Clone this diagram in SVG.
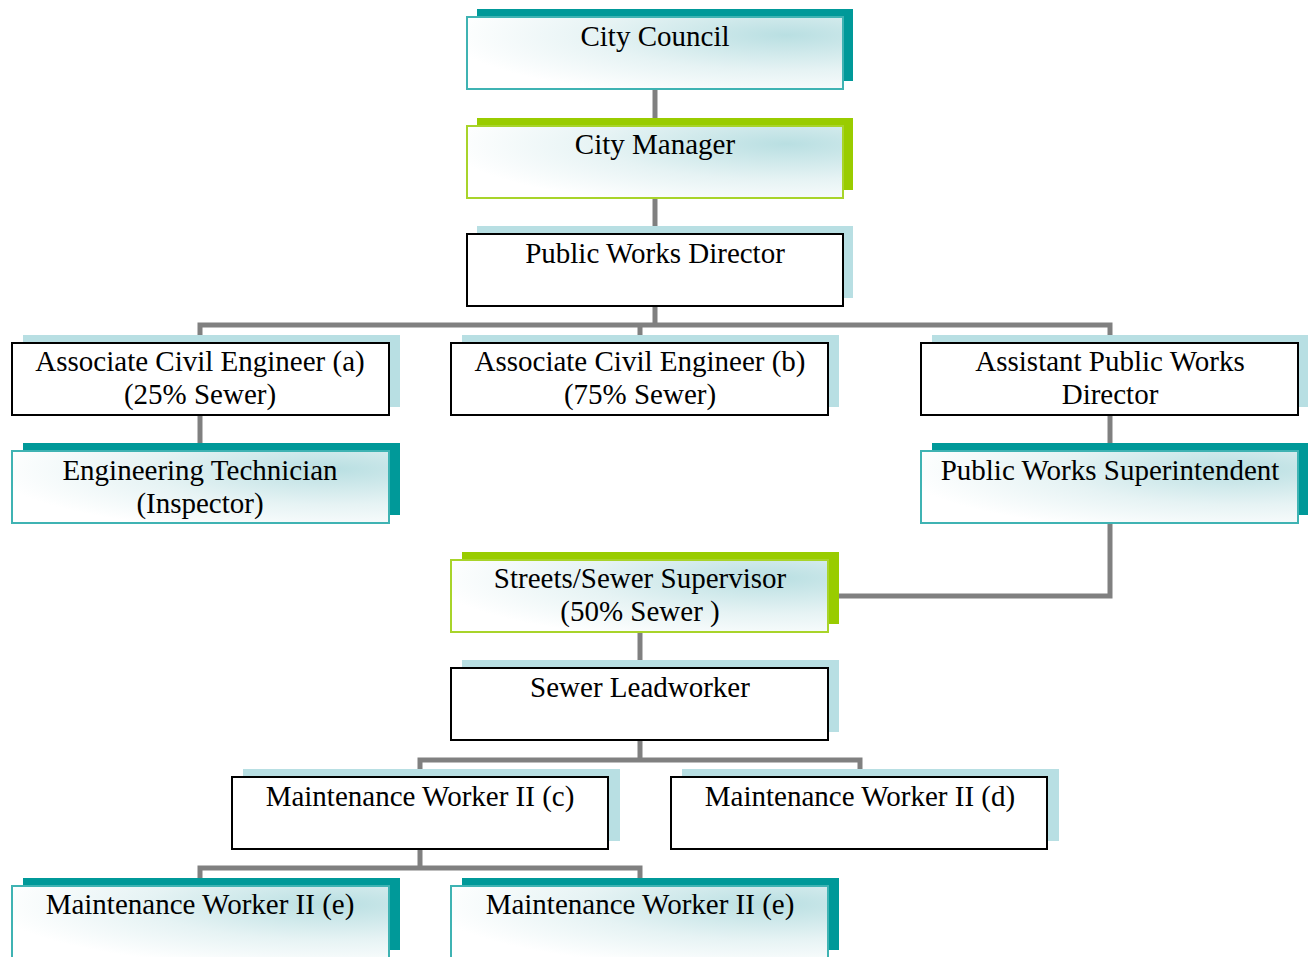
<svg xmlns="http://www.w3.org/2000/svg" width="1308" height="957" viewBox="0 0 1308 957">
<style>
text{font-family:"Liberation Serif","Times New Roman",serif;font-size:29px;fill:#000;text-anchor:middle}
.sh-teal{fill:#009999}
.sh-green{fill:#99CC00}
.sh-blue{fill:#B8DFE3}
.fr-teal{fill:url(#grad);stroke:#3FB3B3;stroke-width:2}
.fr-green{fill:url(#grad);stroke:#A8D42A;stroke-width:2}
.fr-plain{fill:#fff;stroke:#000;stroke-width:2}
.conn{fill:none;stroke:#808080;stroke-width:5}
</style>
<defs>
<radialGradient id="grad" cx="0.85" cy="0.25" r="0.9" fx="0.85" fy="0.25">
<stop offset="0" stop-color="#B9DFE2"/>
<stop offset="0.55" stop-color="#E6F3F4"/>
<stop offset="1" stop-color="#FFFFFF"/>
</radialGradient>
</defs>
<rect width="1308" height="957" fill="#fff"/>
<g id="connectors">
<path class="conn" d="M655 89V126"/>
<path class="conn" d="M655 198V234"/>
<path class="conn" d="M655 307V325M200 343V325H1110V343M640 325V343"/>
<path class="conn" d="M200 415V451"/>
<path class="conn" d="M1110 415V451"/>
<path class="conn" d="M1110 523V596H829"/>
<path class="conn" d="M640 632V668"/>
<path class="conn" d="M640 741V760M420 777V760H860V777"/>
<path class="conn" d="M420 849V868M200 886V868H640V886"/>
</g>
<g id="city-council">
<rect class="sh-teal" x="477" y="9" width="376" height="72"/>
<rect class="fr-teal" x="467" y="17" width="376" height="72"/>
<text x="655" y="46">City Council</text>
</g>
<g id="city-manager">
<rect class="sh-green" x="477" y="118" width="376" height="72"/>
<rect class="fr-green" x="467" y="126" width="376" height="72"/>
<text x="655" y="154">City Manager</text>
</g>
<g id="public-works-director">
<rect class="sh-blue" x="477" y="226" width="376" height="72"/>
<rect class="fr-plain" x="467" y="234" width="376" height="72"/>
<text x="655" y="263">Public Works Director</text>
</g>
<g id="ace-a">
<rect class="sh-blue" x="23" y="335" width="377" height="72"/>
<rect class="fr-plain" x="12" y="343" width="377" height="72"/>
<text x="200" y="371">Associate Civil Engineer (a)</text>
<text x="200" y="404">(25% Sewer)</text>
</g>
<g id="ace-b">
<rect class="sh-blue" x="462" y="335" width="377" height="72"/>
<rect class="fr-plain" x="451" y="343" width="377" height="72"/>
<text x="640" y="371">Associate Civil Engineer (b)</text>
<text x="640" y="404">(75% Sewer)</text>
</g>
<g id="apwd">
<rect class="sh-blue" x="932" y="335" width="377" height="72"/>
<rect class="fr-plain" x="921" y="343" width="377" height="72"/>
<text x="1110" y="371">Assistant Public Works</text>
<text x="1110" y="404">Director</text>
</g>
<g id="eng-tech">
<rect class="sh-teal" x="23" y="443" width="377" height="72"/>
<rect class="fr-teal" x="12" y="451" width="377" height="72"/>
<text x="200" y="480">Engineering Technician</text>
<text x="200" y="513">(Inspector)</text>
</g>
<g id="pws">
<rect class="sh-teal" x="932" y="443" width="377" height="72"/>
<rect class="fr-teal" x="921" y="451" width="377" height="72"/>
<text x="1110" y="480">Public Works Superintendent</text>
</g>
<g id="supervisor">
<rect class="sh-green" x="462" y="552" width="377" height="72"/>
<rect class="fr-green" x="451" y="560" width="377" height="72"/>
<text x="640" y="588">Streets/Sewer Supervisor</text>
<text x="640" y="621">(50% Sewer )</text>
</g>
<g id="leadworker">
<rect class="sh-blue" x="462" y="660" width="377" height="72"/>
<rect class="fr-plain" x="451" y="668" width="377" height="72"/>
<text x="640" y="697">Sewer Leadworker</text>
</g>
<g id="mw-c">
<rect class="sh-blue" x="243" y="769" width="377" height="72"/>
<rect class="fr-plain" x="232" y="777" width="376" height="72"/>
<text x="420" y="806">Maintenance Worker II (c)</text>
</g>
<g id="mw-d">
<rect class="sh-blue" x="682" y="769" width="377" height="72"/>
<rect class="fr-plain" x="671" y="777" width="376" height="72"/>
<text x="860" y="806">Maintenance Worker II (d)</text>
</g>
<g id="mw-e1">
<rect class="sh-teal" x="23" y="878" width="377" height="72"/>
<rect class="fr-teal" x="12" y="886" width="377" height="72"/>
<text x="200" y="914">Maintenance Worker II (e)</text>
</g>
<g id="mw-e2">
<rect class="sh-teal" x="462" y="878" width="377" height="72"/>
<rect class="fr-teal" x="451" y="886" width="377" height="72"/>
<text x="640" y="914">Maintenance Worker II (e)</text>
</g>
</svg>
